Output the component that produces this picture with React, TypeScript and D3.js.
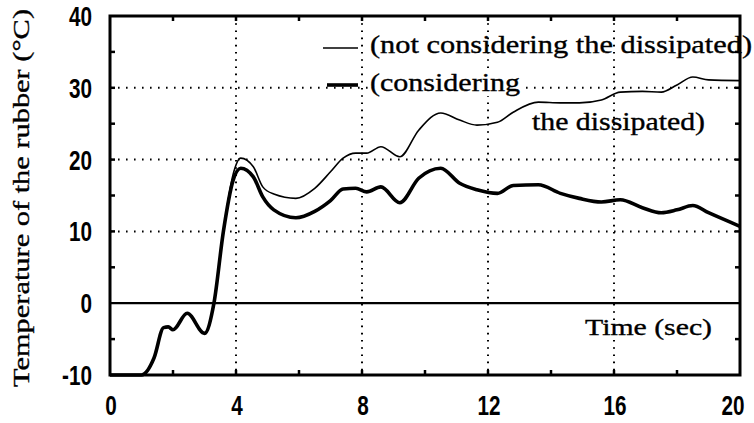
import React from "react";
import * as d3 from "d3";

const timeSec = [0, 1.0, 1.4, 1.7, 1.85, 2.0, 2.45, 3.0, 3.3, 3.6, 3.9, 4.15, 4.55, 4.85, 5.2, 5.9, 6.5, 7.0, 7.4, 7.8, 8.15, 8.6, 9.2, 9.8, 10.5, 11.1, 11.65, 12.3, 12.8, 13.6, 14.3, 14.9, 15.6, 16.2, 16.9, 17.5, 18.0, 18.5, 19.0, 20.0];
const considering = [-10, -10, -7.6, -3.4, -3.3, -3.7, -1.4, -4.2, 0, 10, 17, 18.8, 17.6, 14.8, 13.0, 11.9, 12.8, 14.3, 15.9, 16.0, 15.5, 16.2, 14.0, 17.4, 18.8, 16.7, 15.8, 15.3, 16.4, 16.5, 15.3, 14.6, 14.1, 14.4, 13.3, 12.6, 13.0, 13.6, 12.6, 10.7];
const notConsidering = [-10, -10, -7.6, -3.4, -3.3, -3.7, -1.4, -4.2, 0, 10, 17.8, 20.2, 19.0, 16.2, 15.2, 14.6, 16.0, 18.3, 20.2, 20.9, 20.9, 21.8, 20.4, 24.1, 26.5, 25.5, 24.8, 25.2, 26.6, 28.0, 27.9, 27.9, 28.3, 29.4, 29.5, 29.4, 30.4, 31.5, 31.1, 31.0];

const xTicks = [0, 4, 8, 12, 16, 20];
const xMinor = [2, 6, 10, 14, 18];
const yTicks = [-10, 0, 10, 20, 30, 40];
const yMinor = [-5, 5, 15, 25, 35];
const yGrid = [10, 20, 30];
const xGrid = [4, 8, 12, 16];

const legendLabels = ["(not considering the dissipated)", "(considering", "the dissipated)"];
const xAxisTitle = "Time (sec)";
const yAxisTitle = "Temperature of the rubber (\u00B0C)";

const W = 754, H = 423;
const L = 110, R = 740, T = 16, B = 375;

export default function App() {
  const x = d3.scaleLinear().domain([0, 20]).range([L, R]);
  const y = d3.scaleLinear().domain([-10, 40]).range([B, T]);
  const line = (vals: number[]) =>
    d3.line<number>().x((_, i) => x(timeSec[i])).y((v) => y(v)).curve(d3.curveMonotoneX)(vals) || "";

  const serif = "Liberation Serif, Times New Roman, serif";
  const sans = "Liberation Sans, Arial, sans-serif";
  const textStroke = { stroke: "#000", strokeWidth: 0.35 };

  return (
    <svg width={W} height={H} style={{ position: "absolute", left: 0, top: 0, background: "#fff" }}>
      <rect x={0} y={0} width={W} height={H} fill="#fff" />
      {yGrid.map((v) => (
        <line key={"yg" + v} x1={L} x2={R} y1={y(v)} y2={y(v)} stroke="#000" strokeWidth={2} strokeDasharray="1.6,6.4" />
      ))}
      {xGrid.map((v) => (
        <line key={"xg" + v} x1={x(v)} x2={x(v)} y1={T} y2={B} stroke="#000" strokeWidth={2} strokeDasharray="1.6,5.6" />
      ))}
      <line x1={L} x2={R} y1={y(0)} y2={y(0)} stroke="#000" strokeWidth={2.2} />
      {[...xMinor, ...xGrid].map((v) => (
        <g key={"xt" + v}>
          <line x1={x(v)} x2={x(v)} y1={B} y2={B - 5} stroke="#000" strokeWidth={2.5} />
          <line x1={x(v)} x2={x(v)} y1={T} y2={T + 5} stroke="#000" strokeWidth={2.5} />
        </g>
      ))}
      {[...yMinor, ...yGrid].map((v) => (
        <g key={"yt" + v}>
          <line x1={L} x2={L + 5} y1={y(v)} y2={y(v)} stroke="#000" strokeWidth={2.5} />
          <line x1={R} x2={R - 5} y1={y(v)} y2={y(v)} stroke="#000" strokeWidth={2.5} />
        </g>
      ))}
      <path d={line(notConsidering)} fill="none" stroke="#000" strokeWidth={1.6} strokeLinejoin="round" />
      <path d={line(considering)} fill="none" stroke="#000" strokeWidth={3.6} strokeLinejoin="round" />
      <rect x={L} y={T} width={R - L} height={B - T} fill="none" stroke="#000" strokeWidth={3} />
      {yTicks.map((v) => (
        <text key={"yl" + v} transform={`translate(92,${y(v) + 10}) scale(0.74,1)`} textAnchor="end"
          fontFamily={sans} fontWeight="bold" fontSize={28} fill="#000">{String(v)}</text>
      ))}
      {xTicks.map((v) => (
        <text key={"xl" + v} transform={`translate(${Math.min(x(v) + 1, 733)},415) scale(0.74,1)`} textAnchor="middle"
          fontFamily={sans} fontWeight="bold" fontSize={28} fill="#000">{String(v)}</text>
      ))}
      <text x={585} y={335} fontFamily={serif} fontSize={24} fill="#000" {...textStroke} textLength={127} lengthAdjust="spacingAndGlyphs">{xAxisTitle}</text>
      <text transform="translate(29,387) rotate(-90)" fontFamily={serif} fontSize={24} fill="#000" {...textStroke} textLength={378} lengthAdjust="spacingAndGlyphs">{yAxisTitle}</text>
      <line x1={323} x2={358} y1={48} y2={48} stroke="#000" strokeWidth={1.6} />
      <line x1={327} x2={358} y1={85} y2={85} stroke="#000" strokeWidth={3.6} />
      <rect x={368} y={70} width={152} height={26} fill="#fff" />
      <text x={370} y={53} fontFamily={serif} fontSize={25} fill="#000" {...textStroke} textLength={382} lengthAdjust="spacingAndGlyphs">{legendLabels[0]}</text>
      <text x={370} y={91} fontFamily={serif} fontSize={25} fill="#000" {...textStroke} textLength={150} lengthAdjust="spacingAndGlyphs">{legendLabels[1]}</text>
      <text x={532} y={130} fontFamily={serif} fontSize={25} fill="#000" {...textStroke} textLength={173} lengthAdjust="spacingAndGlyphs">{legendLabels[2]}</text>
    </svg>
  );
}
